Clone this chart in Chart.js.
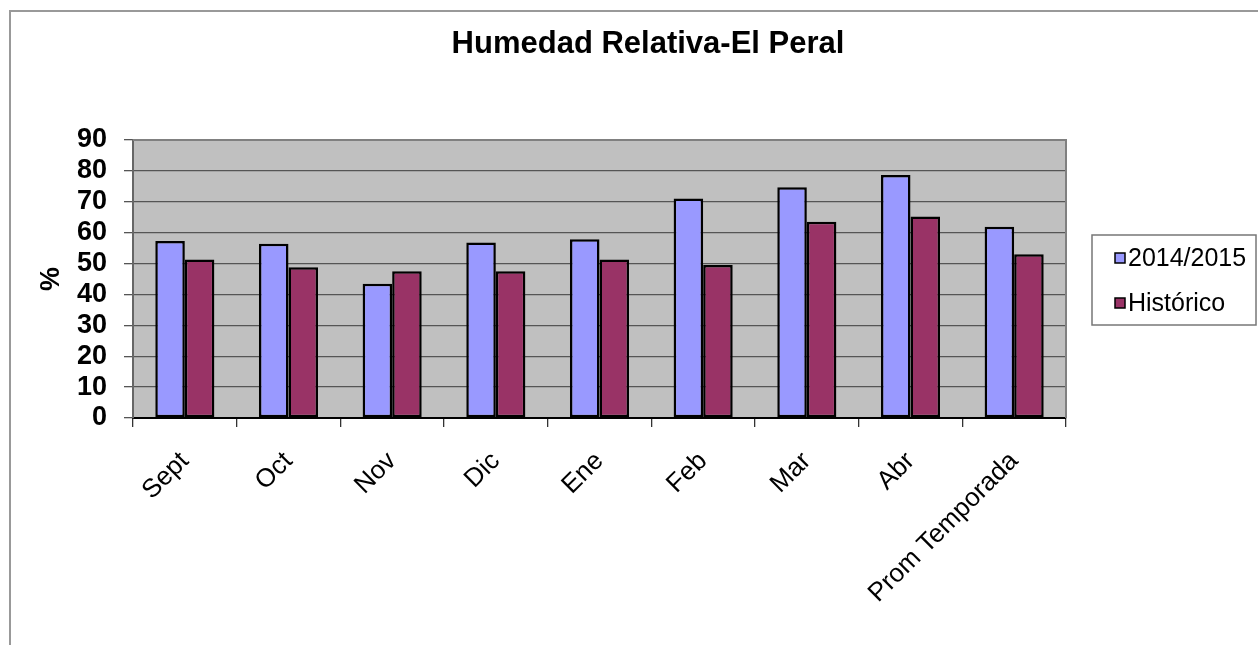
<!DOCTYPE html>
<html>
<head>
<meta charset="utf-8">
<script src="https://cdn.jsdelivr.net/npm/chart.js@4/dist/chart.umd.min.js"></script>
<style>
  html, body { margin: 0; padding: 0; background: #fff; }
  #wrap { width: 1258px; height: 645px; position: relative; }
</style>
</head>
<body>
<div id="wrap"><canvas id="humChart" width="1258" height="645"></canvas></div>
<script>
const months = ['Sept', 'Oct', 'Nov', 'Dic', 'Ene', 'Feb', 'Mar', 'Abr', 'Prom Temporada'];
const season = [57.3, 56.4, 43.5, 56.8, 57.9, 71.1, 74.7, 78.7, 61.9];
const historic = [51.3, 48.8, 47.5, 47.5, 51.3, 49.5, 63.5, 65.2, 53.0];
const yTicks = [0, 10, 20, 30, 40, 50, 60, 70, 80, 90];

const FONT = '"Liberation Sans", Arial, sans-serif';

// grey plot background, frame, title and boxed legend
const excelLook = {
    id: 'excelLook',
    beforeDraw(chart) {
        const { ctx, chartArea: a } = chart;
        ctx.save();
        ctx.fillStyle = '#C0C0C0';
        ctx.fillRect(a.left, a.top, a.right - a.left, a.bottom - a.top);
        // outer chart border
        ctx.strokeStyle = '#999';
        ctx.lineWidth = 2;
        ctx.beginPath();
        ctx.moveTo(10, 645);
        ctx.lineTo(10, 11);
        ctx.lineTo(1258, 11);
        ctx.stroke();
        ctx.restore();
    },
    afterDraw(chart) {
        const { ctx, chartArea: a } = chart;
        ctx.save();
        ctx.strokeStyle = '#808080';
        ctx.lineWidth = 2;
        ctx.beginPath();
        ctx.moveTo(a.left, a.top);
        ctx.lineTo(a.right, a.top);
        ctx.lineTo(a.right, a.bottom);
        ctx.stroke();

        ctx.fillStyle = '#000';
        ctx.font = 'bold 31px ' + FONT;
        ctx.textAlign = 'center';
        ctx.textBaseline = 'middle';
        ctx.fillText('Humedad Relativa-El Peral', 648, 44);

        // legend
        ctx.strokeStyle = '#777';
        ctx.lineWidth = 1.5;
        ctx.strokeRect(1092, 235, 164, 90);
        ctx.font = '25px ' + FONT;
        ctx.textAlign = 'left';
        chart.data.datasets.forEach((ds, i) => {
            const y = 258 + i * 45;
            ctx.fillStyle = ds.backgroundColor;
            ctx.fillRect(1115, y - 5, 10, 10);
            ctx.strokeStyle = '#000';
            ctx.lineWidth = 1.5;
            ctx.strokeRect(1115, y - 5, 10, 10);
            ctx.fillStyle = '#000';
            ctx.fillText(ds.label, 1128, y + 1);
        });
        ctx.restore();
    }
};

new Chart(document.getElementById('humChart'), {
    type: 'bar',
    data: {
        labels: months,
        datasets: [
            {
                label: '2014/2015',
                data: season,
                backgroundColor: '#9999FF',
                borderColor: '#000',
                borderWidth: 2.5,
                borderSkipped: false
            },
            {
                label: 'Histórico',
                data: historic,
                backgroundColor: '#993366',
                borderColor: '#000',
                borderWidth: 2.5,
                borderSkipped: false
            }
        ]
    },
    options: {
        responsive: false,
        animation: false,
        categoryPercentage: 0.57,
        barPercentage: 1,
        layout: { padding: { top: 140, right: 192, left: 0, bottom: 0 } },
        plugins: {
            legend: { display: false },
            title: { display: false },
            tooltip: { enabled: false }
        },
        scales: {
            x: {
                offset: true,
                afterFit(scale) { scale.height = 227; },
                grid: {
                    offset: true,
                    drawOnChartArea: false,
                    drawTicks: true,
                    tickLength: 9,
                    color: '#333',
                    lineWidth: 1.3
                },
                border: { color: '#000', width: 2 },
                ticks: {
                    color: '#000',
                    font: { family: FONT, size: 26 },
                    minRotation: 45,
                    maxRotation: 45,
                    padding: 19,
                    autoSkip: false
                }
            },
            y: {
                min: 0,
                max: 90,
                afterFit(scale) { scale.width = 133; },
                afterBuildTicks(scale) { scale.ticks = yTicks.map(v => ({ value: v })); },
                grid: {
                    color: '#555',
                    lineWidth: 1.3,
                    tickLength: 9
                },
                border: { color: '#666', width: 2 },
                ticks: {
                    color: '#000',
                    font: { family: FONT, size: 27, weight: 'bold' },
                    padding: 17,
                    autoSkip: false
                },
                title: {
                    display: true,
                    text: '%',
                    color: '#000',
                    font: { family: FONT, size: 27, weight: 'bold' },
                    padding: { top: 35, bottom: 0 }
                }
            }
        }
    },
    plugins: [excelLook]
});
</script>
</body>
</html>
